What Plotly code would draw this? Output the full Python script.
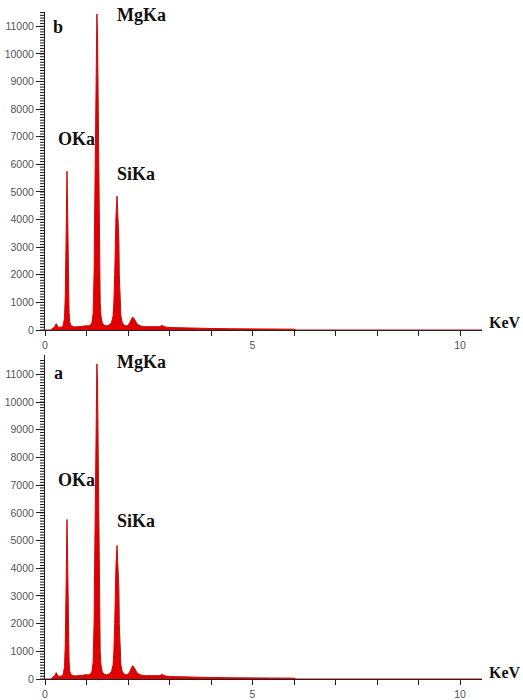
import plotly.graph_objects as go

# Energy (keV) sample positions
energy = [0.00, 0.15, 0.17, 0.20, 0.24, 0.27, 0.29, 0.32, 0.36, 0.40, 0.44, 0.47, 0.49, 0.50,
          0.51, 0.52, 0.53, 0.54, 0.55, 0.56, 0.58, 0.60, 0.63, 0.70, 0.80, 0.90, 0.95, 1.00,
          1.05, 1.10, 1.13, 1.16, 1.17, 1.185, 1.19, 1.20, 1.21, 1.222, 1.235, 1.25, 1.265,
          1.278, 1.29, 1.30, 1.31, 1.315, 1.33, 1.35, 1.38, 1.42, 1.48, 1.54, 1.60, 1.64, 1.66,
          1.68, 1.69, 1.71, 1.735, 1.76, 1.78, 1.79, 1.81, 1.83, 1.86, 1.90, 1.95, 2.00, 2.04,
          2.08, 2.11, 2.14, 2.18, 2.22, 2.28, 2.35, 2.45, 2.60, 2.75, 2.82, 2.90, 3.00, 3.30,
          3.60, 4.00, 4.50, 5.00, 5.50, 6.00, 6.05, 10.53]

# Counts, spectrum b (top panel)
counts_b = [0, 0, 40, 90, 130, 230, 150, 100, 100, 110, 160, 450, 1300, 2600,
            4100, 4900, 5750, 4900, 3100, 1600, 650, 260, 150, 110, 110, 130, 150, 140,
            150, 190, 260, 600, 1000, 2200, 3300, 5000, 7000, 8500, 10800, 11450, 10800,
            8500, 7000, 5000, 3300, 2200, 1000, 500, 260, 180, 150, 170, 260, 500, 1000,
            2000, 3300, 4100, 4850, 4100, 3300, 2000, 1000, 500, 280, 180, 150, 160, 260,
            400, 470, 430, 320, 220, 160, 130, 120, 110, 120, 160, 110, 90, 75,
            65, 55, 45, 40, 35, 30, 0, 0]

# Counts, spectrum a (bottom panel)
counts_a = [0, 0, 40, 90, 130, 230, 150, 100, 100, 110, 160, 450, 1300, 2600,
            4100, 4900, 5760, 4900, 3100, 1600, 650, 260, 150, 110, 110, 130, 150, 140,
            150, 190, 260, 600, 1000, 2200, 3300, 5000, 7000, 8500, 10800, 11380, 10800,
            8500, 7000, 5000, 3300, 2200, 1000, 500, 260, 180, 150, 170, 260, 500, 1000,
            2000, 3300, 4100, 4820, 4100, 3300, 2000, 1000, 500, 280, 180, 150, 160, 260,
            400, 480, 430, 320, 220, 160, 130, 120, 110, 120, 160, 110, 90, 75,
            65, 55, 45, 40, 35, 30, 0, 0]

x_tickvals = list(range(0, 11))
x_ticktext = ["0", "", "", "", "", "5", "", "", "", "", "10"]
y_major_vals = list(range(0, 12000, 1000))
y_major_text = [str(v) for v in y_major_vals]
y_minor_vals = list(range(0, 11600, 100))

W, H = 523, 700
L, R, T, B = 45, 41, 12, 21
PW, PH = W - L - R, H - T - B

def px(xp):
    return (xp - L) / PW

def py(yp):
    return (H - B - yp) / PH

fig = go.Figure()
red_fill = "rgb(224,0,0)"
red_line = "rgb(200,10,10)"
fig.add_trace(go.Scatter(x=energy, y=counts_b, mode="lines", fill="tozeroy",
                         line=dict(color=red_line, width=1), fillcolor=red_fill,
                         xaxis="x", yaxis="y", showlegend=False, hoverinfo="skip"))
fig.add_trace(go.Scatter(x=energy, y=counts_a, mode="lines", fill="tozeroy",
                         line=dict(color=red_line, width=1), fillcolor=red_fill,
                         xaxis="x2", yaxis="y2", showlegend=False, hoverinfo="skip"))

tickfont = dict(family="Liberation Sans, Arial, sans-serif", size=10.5, color="#555")

def xaxis_cfg(anchor):
    return dict(range=[0, 10.53], tickmode="array", tickvals=x_tickvals, ticktext=x_ticktext,
                ticks="outside", ticklen=5, tickcolor="#222", tickwidth=1,
                showline=True, linecolor="#222", linewidth=1, showgrid=False,
                zeroline=False, tickfont=tickfont, anchor=anchor, domain=[0, 1],
                automargin=False)

def yaxis_cfg(rng, dom, anchor):
    return dict(range=rng, domain=dom, tickmode="array", tickvals=y_major_vals,
                ticktext=y_major_text,
                ticks="outside", ticklen=8, tickcolor="#222", tickwidth=1,
                showline=True, linecolor="#222", linewidth=1, showgrid=False,
                zeroline=False, tickfont=tickfont, anchor=anchor, automargin=False)

top_dom = [py(330), 1.0]
bot_dom = [0.0, py(355)]
top_rng = [0, 11520]
bot_rng = [0, 11700]

fig.update_layout(
    width=W, height=H,
    margin=dict(l=L, r=R, t=T, b=B, pad=0, autoexpand=False),
    paper_bgcolor="white", plot_bgcolor="white",
    xaxis=xaxis_cfg("y"),
    yaxis=yaxis_cfg(top_rng, top_dom, "x"),
    xaxis2=xaxis_cfg("y2"),
    yaxis2=yaxis_cfg(bot_rng, bot_dom, "x2"),
)

# dense minor ticks on the count axes (comb), positioned through the y scales
minor_len = 5 / PW
for yref in ("y", "y2"):
    for v in y_minor_vals:
        fig.add_shape(type="line", xref="paper", yref=yref, x0=-minor_len, x1=0,
                      y0=v, y1=v, line=dict(color="#111", width=1), layer="above")

lab_font = dict(family="Liberation Serif, Times New Roman, serif", size=18, color="#111")
keV_font = dict(family="Liberation Serif, Times New Roman, serif", size=16, color="#111")
labels = [
    ("b", 52, 27), ("MgKa", 116, 15), ("OKa", 57, 139), ("SiKa", 116, 174),
    ("a", 53, 373), ("MgKa", 116, 362), ("OKa", 57, 480), ("SiKa", 116, 521),
]
for text, xp, yp in labels:
    fig.add_annotation(text="<b>%s</b>" % text, xref="paper", yref="paper",
                       x=px(xp), y=py(yp), xanchor="left", yanchor="middle",
                       showarrow=False, font=lab_font, borderpad=0)
for yp in (322, 672):
    fig.add_annotation(text="<b>KeV</b>", xref="paper", yref="paper",
                       x=px(522), y=py(yp), xanchor="right", yanchor="middle",
                       showarrow=False, font=keV_font, borderpad=0)

fig.write_html("out.html")
